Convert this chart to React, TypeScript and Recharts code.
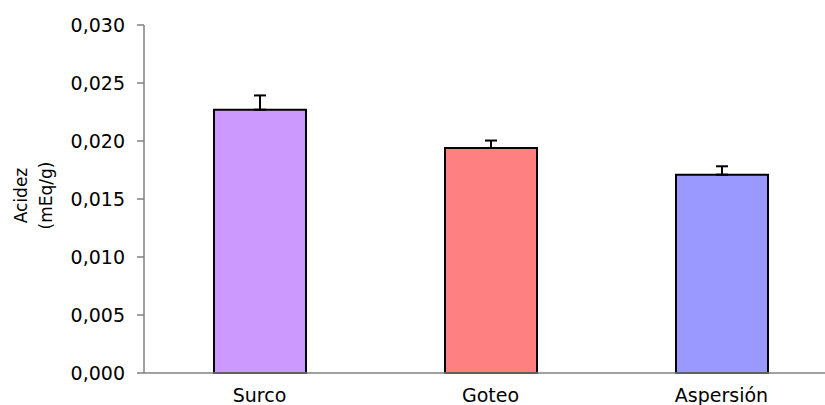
import React from 'react';
import { BarChart, Bar, XAxis, YAxis, ErrorBar, Cell } from 'recharts';

const categories = ['Surco', 'Goteo', 'Aspersión'];
const acidity = [0.0227, 0.0194, 0.0171];
const errorUp = [0.00123, 0.00064, 0.00072];
const barColors = ['#CC99FF', '#FF8080', '#9999FF'];
const yTicks = [0, 0.005, 0.01, 0.015, 0.02, 0.025, 0.03];
const boundaryTicks = [0, 1, 2, 3];
const titleLines = ['Acidez', '(mEq/g)'];

const data = categories.map((c, i) => ({
  name: c,
  value: acidity[i],
  err: [0, errorUp[i]],
}));

const FONT = '"DejaVu Sans", sans-serif';
const AXIS = '#808080';

const YTitle = () => (
  <text
    transform="translate(27.3, 195.5) rotate(-90)"
    textAnchor="middle"
    fontFamily={FONT}
    fontSize={17}
    fill="#000"
  >
    <tspan x={0} dy={0}>{titleLines[0]}</tspan>
    <tspan x={0} dy={24.7}>{titleLines[1]}</tspan>
  </text>
);

export default function App() {
  return (
    <div
      style={{
        position: 'absolute',
        left: 0,
        top: 0,
        width: 825,
        height: 405,
        overflow: 'hidden',
        background: '#fff',
      }}
    >
      <BarChart
        width={845}
        height={405}
        data={data}
        margin={{ top: 25, right: 8, bottom: 0, left: 0 }}
      >
        <XAxis
          xAxisId="a_ticks"
          type="number"
          domain={[0, 3]}
          ticks={boundaryTicks}
          allowDataOverflow
          height={1}
          tick={false}
          tickSize={7}
          stroke={AXIS}
          axisLine={{ stroke: AXIS, strokeWidth: 1.5 }}
          tickLine={{ stroke: AXIS, strokeWidth: 1.5 }}
        />
        <XAxis
          xAxisId="b_cat"
          dataKey="name"
          height={31}
          axisLine={false}
          tickLine={false}
          tickSize={0}
          tickMargin={15}
          tick={{ fill: '#000', fontSize: 19, fontFamily: FONT }}
        />
        <YAxis
          width={144}
          domain={[0, 0.03]}
          ticks={yTicks}
          tickFormatter={(v: number) => v.toFixed(3).replace('.', ',')}
          tickSize={7}
          tickMargin={12}
          axisLine={{ stroke: AXIS, strokeWidth: 1.5 }}
          tickLine={{ stroke: AXIS, strokeWidth: 1.5 }}
          tick={{ fill: '#000', fontSize: 19, fontFamily: FONT }}
          label={{ content: () => <YTitle /> }}
        />
        <Bar
          xAxisId="b_cat"
          dataKey="value"
          barSize={92}
          stroke="#000"
          strokeWidth={2}
          isAnimationActive={false}
        >
          {data.map((d, i) => (
            <Cell key={d.name} fill={barColors[i]} />
          ))}
          <ErrorBar
            dataKey="err"
            width={6}
            stroke="#000"
            strokeWidth={2}
            direction="y"
            isAnimationActive={false}
          />
        </Bar>
      </BarChart>
    </div>
  );
}
